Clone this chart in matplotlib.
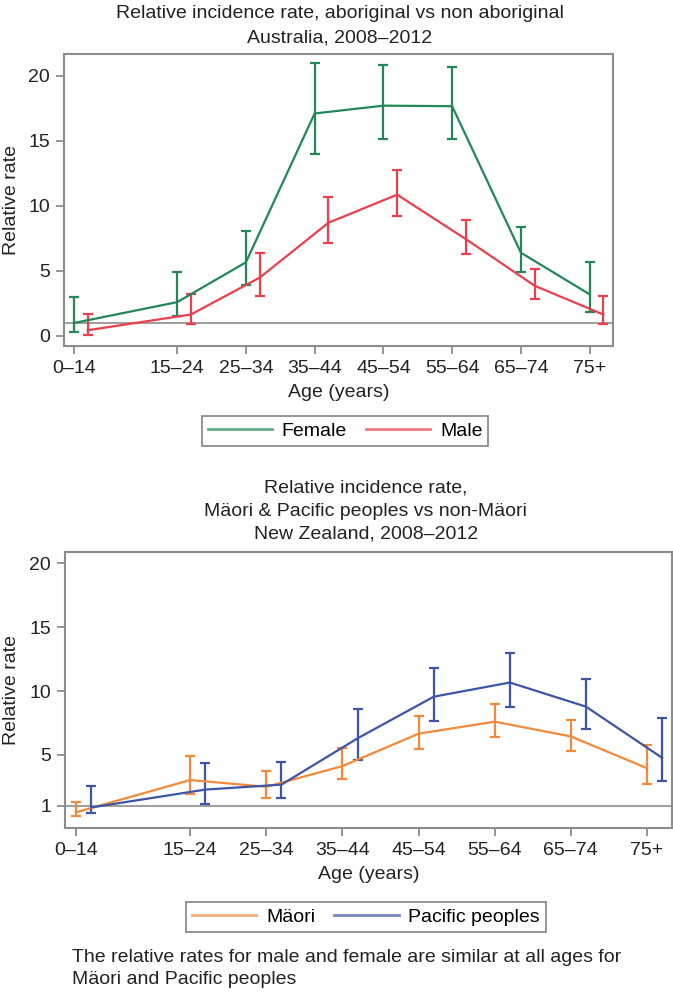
import matplotlib
matplotlib.use("Agg")
from matplotlib import pyplot as plt
from matplotlib.lines import Line2D

plt.rcParams['font.family'] = ['Liberation Sans', 'DejaVu Sans']

age_labels = ['0–14', '15–24', '25–34', '35–44', '45–54', '55–64', '65–74', '75+']
age_pos = [5, 20, 30, 40, 50, 60, 70, 80]

# Australia
female = [1.0, 2.6, 5.66, 17.1, 17.7, 17.66, 6.4, 3.2]
female_lo = [0.3, 1.5, 3.9, 14.0, 15.1, 15.1, 4.94, 1.85]
female_hi = [3.0, 4.9, 8.1, 21.0, 20.8, 20.7, 8.34, 5.66]
male = [0.44, 1.65, 4.48, 8.7, 10.86, 7.44, 3.86, 1.65]
male_lo = [0.1, 0.95, 3.1, 7.13, 9.24, 6.28, 2.88, 0.95]
male_hi = [1.67, 3.2, 6.4, 10.7, 12.77, 8.9, 5.12, 3.06]

# New Zealand
maori = [0.5, 3.03, 2.5, 4.12, 6.66, 7.6, 6.45, 3.96]
maori_lo = [0.18, 1.9, 1.6, 3.13, 5.49, 6.42, 5.31, 2.72]
maori_hi = [1.27, 4.9, 3.73, 5.54, 8.06, 9.0, 7.75, 5.78]
pacific = [0.88, 2.28, 2.67, 6.3, 9.56, 10.67, 8.78, 4.77]
pacific_lo = [0.41, 1.19, 1.6, 4.6, 7.67, 8.78, 7.02, 2.95]
pacific_hi = [2.6, 4.38, 4.46, 8.63, 11.8, 12.98, 10.96, 7.88]

GREEN = '#23875a'
RED = '#e9404b'
ORANGE = '#f28a3c'
BLUE = '#3d55a6'
GRAY = '#8c8c8c'
TXT = '#222222'
FS = 14


def draw(ax, series, ylim, yticks, xlim):
    ax.axhline(1, color='#a0a0a0', lw=1.5, zorder=1)
    handles = []
    for vals, lo, hi, color, shift, name in series:
        xs = [p + shift for p in age_pos]
        err = [[v - l for v, l in zip(vals, lo)], [h - v for v, h in zip(vals, hi)]]
        ax.errorbar(xs, vals, yerr=err, color=color, lw=1.6, elinewidth=1.6,
                    capsize=3.5, capthick=1.6, zorder=3)
        handles.append(Line2D([], [], color=color, lw=2, alpha=0.7, label=name))
    ax.set_xlim(*xlim)
    ax.set_ylim(*ylim)
    ax.set_yticks(yticks)
    ax.set_xticks(age_pos)
    ax.set_xticklabels(age_labels)
    ax.tick_params(colors=GRAY, labelcolor=TXT, labelsize=FS,
                   length=6, width=1.3, pad=4)
    for s in ax.spines.values():
        s.set_color(GRAY)
        s.set_linewidth(1.5)
    ax.set_ylabel('Relative rate', fontsize=FS, color=TXT, va='center')
    box = ax.get_position()
    ax.yaxis.set_label_coords(12 / 673, (box.y0 + box.y1) / 2, transform=fig.transFigure)
    ax.set_xlabel('Age (years)', fontsize=FS, color=TXT, labelpad=5)
    return handles


def add_legend(ax, handles, cx, cy):
    leg = ax.legend(handles=handles, loc='center', bbox_to_anchor=(cx / 673, 1 - cy / 993),
                    bbox_transform=fig.transFigure, ncol=2, fontsize=FS,
                    frameon=True, fancybox=False, edgecolor=GRAY, framealpha=1,
                    handlelength=3.3, handletextpad=0.5, columnspacing=1.0,
                    borderpad=0.3)
    leg.get_frame().set_linewidth(1.3)


fig = plt.figure(figsize=(6.73, 9.93), dpi=100)

ax1 = fig.add_axes([64 / 673, 1 - 346 / 993, 549 / 673, 292 / 993])
h1 = draw(ax1, [(female, female_lo, female_hi, GREEN, 0, 'Female'),
                (male, male_lo, male_hi, RED, 2, 'Male')],
          (-0.77, 21.67), [0, 5, 10, 15, 20], (3.54, 83.4))
fig.text(340 / 673, 1 - 13 / 993, 'Relative incidence rate, aboriginal vs non aboriginal',
         ha='center', va='center', fontsize=FS, color=TXT)
fig.text(340 / 673, 1 - 38 / 993, 'Australia, 2008–2012',
         ha='center', va='center', fontsize=FS, color=TXT)
add_legend(ax1, h1, 345, 431)

ax2 = fig.add_axes([65 / 673, 1 - 828 / 993, 607 / 673, 276 / 993])
h2 = draw(ax2, [(maori, maori_lo, maori_hi, ORANGE, 0, 'Mäori'),
                (pacific, pacific_lo, pacific_hi, BLUE, 2, 'Pacific peoples')],
          (-0.73, 20.9), [1, 5, 10, 15, 20], (3.56, 83.3))
for i, line in enumerate(['Relative incidence rate,',
                          'Mäori & Pacific peoples vs non-Mäori',
                          'New Zealand, 2008–2012']):
    fig.text(366 / 673, 1 - (488 + 23 * i) / 993, line,
             ha='center', va='center', fontsize=FS, color=TXT)
add_legend(ax2, h2, 366, 917)

fig.text(72 / 673, 1 - 957 / 993,
         'The relative rates for male and female are similar at all ages for',
         ha='left', va='center', fontsize=FS, color=TXT)
fig.text(72 / 673, 1 - 980 / 993, 'Mäori and Pacific peoples',
         ha='left', va='center', fontsize=FS, color=TXT)

fig.savefig('out.png', dpi=100)
